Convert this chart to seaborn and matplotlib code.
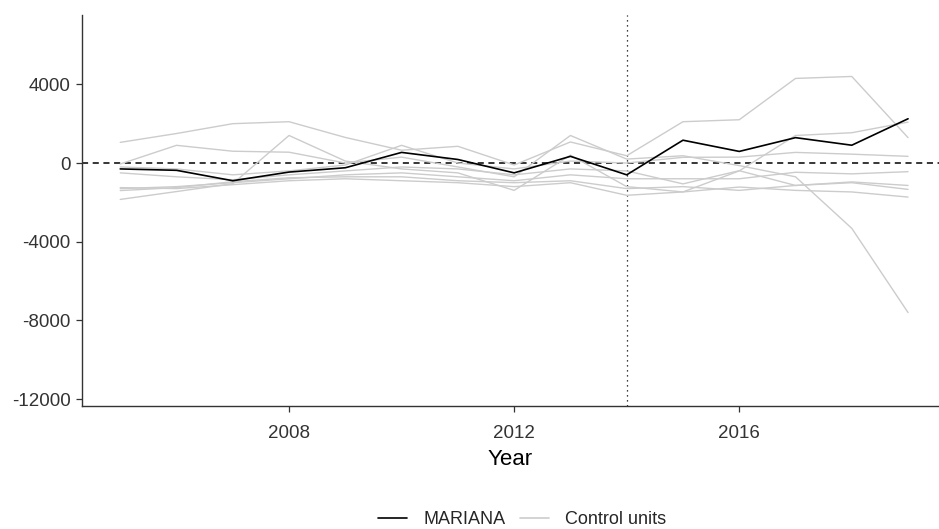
import numpy as np
import pandas as pd
import matplotlib
matplotlib.use("Agg")
import matplotlib.pyplot as plt
from matplotlib.lines import Line2D
import seaborn as sns

years = list(range(2005, 2020))

# gap (treated - synthetic) for the treated unit
mariana = [-300, -370, -900, -460, -240, 540, 180, -500, 340, -600, 1160, 590, 1290, 905, 2250]

# placebo gaps for the control units
ctrl_1 = [1050, 1500, 2000, 2100, 1300, 650, 850, -100, 1070, 370, 2100, 2200, 4300, 4400, 1290]
ctrl_2 = [-50, 900, 600, 550, 0, 300, -200, -700, 1400, 200, 370, -130, -700, -3320, -7600]
ctrl_3 = [-1850, -1450, -1050, 1400, 100, -300, -500, -1390, 400, -1200, -1470, -400, 1400, 1540, 2080]
ctrl_4 = [-1300, -1200, -1000, -800, -600, -500, -700, -900, -600, -800, -800, -800, -470, -550, -440]
ctrl_5 = [-1250, -1300, -1100, -900, -800, -900, -1000, -1200, -1000, -1640, -1470, -1220, -1390, -1470, -1730]
ctrl_6 = [-1400, -1250, -950, -750, -700, -700, -900, -1000, -900, -1300, -1200, -1390, -1140, -1000, -1340]
ctrl_7 = [-500, -700, -850, -600, -400, -200, -300, -600, -300, -400, -1060, -390, -1140, -960, -1140]
ctrl_8 = [-200, -300, -600, -400, -100, 900, 0, -300, 100, 0, 290, 300, 540, 450, 340]
controls = [ctrl_1, ctrl_2, ctrl_3, ctrl_4, ctrl_5, ctrl_6, ctrl_7, ctrl_8]

treat_year = 2014
y_ticks = [-12000, -8000, -4000, 0, 4000]
x_ticks = [2008, 2012, 2016]

ctrl_df = pd.DataFrame({
    "year": years * len(controls),
    "gap": np.concatenate(controls),
    "unit": np.repeat(np.arange(len(controls)), len(years)),
})
treat_df = pd.DataFrame({"year": years, "gap": mariana})

sns.set_theme(style="ticks")
plt.rcParams["font.family"] = ["Liberation Sans", "DejaVu Sans"]
plt.rcParams["axes.unicode_minus"] = False

fig = plt.figure(figsize=(9.39, 5.29), dpi=100)
ax = fig.add_axes([0.0873, 0.2325, 0.9127, 0.739])

gray = "#cccccc"
sns.lineplot(data=ctrl_df, x="year", y="gap", units="unit", estimator=None,
             color=gray, linewidth=1.0, ax=ax)
sns.lineplot(data=treat_df, x="year", y="gap", color="black", linewidth=1.2, ax=ax)

ax.axhline(0, color="black", linestyle=(0, (4, 3)), linewidth=1.1, zorder=1)
ax.axvline(treat_year, color="black", linestyle=(0, (1, 3)), linewidth=0.9, zorder=1)

ax.set_xlim(2004.32, 2019.55)
ax.set_ylim(-12350, 7520)
ax.set_xticks(x_ticks)
ax.set_yticks(y_ticks)
ax.tick_params(axis="both", colors="#333333", labelsize=13.5, length=4.5, width=0.9)
ax.tick_params(axis="x", pad=9)
ax.tick_params(axis="y", pad=3.5)
for side in ["top", "right"]:
    ax.spines[side].set_visible(False)
for side in ["left", "bottom"]:
    ax.spines[side].set_color("#333333")
    ax.spines[side].set_linewidth(1.0)

ax.set_xlabel("Year", fontsize=16, color="black", labelpad=5)
ax.set_ylabel("")

handles = [Line2D([0], [0], color="black", linewidth=1.2),
           Line2D([0], [0], color=gray, linewidth=1.2)]
fig.legend(handles, ["MARIANA", "Control units"], loc="center",
           bbox_to_anchor=(0.556, 0.018), ncol=2, frameon=False, fontsize=13,
           handlelength=1.6, columnspacing=0.8, handletextpad=0.9)

fig.savefig("out.png", dpi=100)
